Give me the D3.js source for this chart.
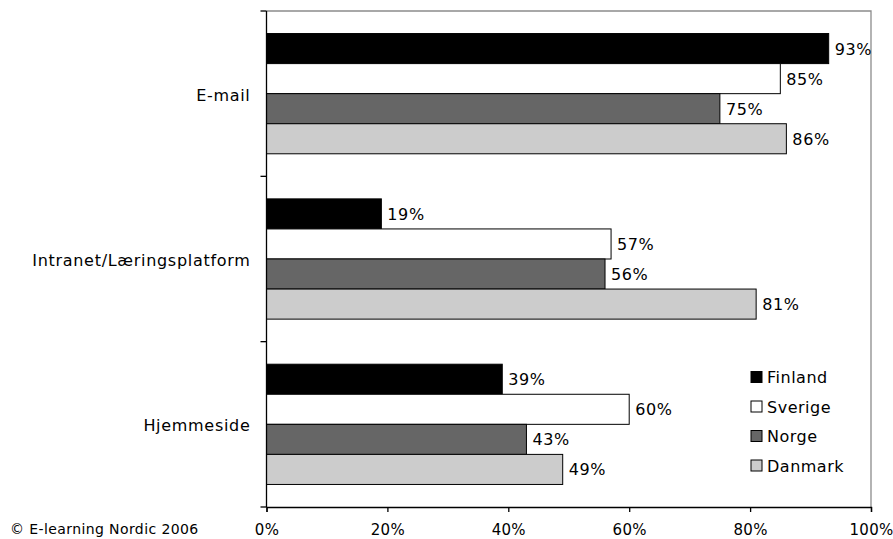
<!DOCTYPE html>
<html>
<head>
<meta charset="utf-8">
<script src="https://cdn.jsdelivr.net/npm/d3@7"></script>
<style>
  html, body { margin: 0; padding: 0; background: #fff; }
  svg { display: block; font-family: "DejaVu Sans", Verdana, sans-serif; }
</style>
</head>
<body>
<svg id="chart" width="893" height="539"></svg>
<script>
const categories = ["E-mail", "Intranet/Læringsplatform", "Hjemmeside"];
const seriesNames = ["Finland", "Sverige", "Norge", "Danmark"];
const finland = [93, 19, 39];
const sverige = [85, 57, 60];
const norge = [75, 56, 43];
const danmark = [86, 81, 49];
const xTicks = [0, 20, 40, 60, 80, 100];
const sourceNote = "© E-learning Nordic 2006";

(function () {
const seriesValues = [finland, sverige, norge, danmark];
const fills = ["#000000", "#ffffff", "#666666", "#cccccc"];

const svg = d3.select("#chart");
const pLeft = 266.5, pRight = 871, pTop = 11, pBottom = 507;

const x = d3.scaleLinear().domain([0, 100]).range([pLeft, pRight]);
const y = d3.scaleBand().domain(categories).range([pTop, pBottom]).paddingInner(0).paddingOuter(0);
const yInner = d3.scaleBand().domain(seriesNames).range([0, y.bandwidth()]).paddingInner(0).paddingOuter(0.75);

// plot border (top & right, gray)
svg.append("path")
  .attr("d", `M${pLeft},${pTop}H${pRight}V${pBottom}`)
  .attr("fill", "none").attr("stroke", "#8c8c8c").attr("stroke-width", 1.3);

// bars
const data = [];
categories.forEach((c, ci) => {
  seriesNames.forEach((s, si) => {
    data.push({ cat: c, series: s, value: seriesValues[si][ci], fill: fills[si] });
  });
});

svg.append("g").selectAll("rect").data(data).join("rect")
  .attr("x", x(0))
  .attr("y", d => y(d.cat) + yInner(d.series))
  .attr("width", d => x(d.value) - x(0))
  .attr("height", yInner.bandwidth())
  .attr("fill", d => d.fill)
  .attr("stroke", "#000")
  .attr("stroke-width", 1);

// data labels
svg.append("g").selectAll("text").data(data).join("text")
  .attr("x", d => x(d.value) + 6)
  .attr("y", d => y(d.cat) + yInner(d.series) + yInner.bandwidth() / 2 + 6)
  .attr("font-size", 16)
  .attr("letter-spacing", "0.6px")
  .attr("fill", "#000")
  .text(d => d.value + "%");

// y axis
const yAxisG = svg.append("g");
yAxisG.append("line").attr("x1", pLeft).attr("x2", pLeft).attr("y1", pTop).attr("y2", pBottom)
  .attr("stroke", "#000").attr("stroke-width", 1.3);
const boundaries = categories.map(c => y(c)).concat([pBottom]);
yAxisG.selectAll("line.tk").data(boundaries).join("line").attr("class", "tk")
  .attr("x1", pLeft - 6).attr("x2", pLeft).attr("y1", d => d).attr("y2", d => d)
  .attr("stroke", "#000").attr("stroke-width", 1.3);
yAxisG.selectAll("text").data(categories).join("text")
  .attr("x", pLeft - 16)
  .attr("y", d => y(d) + y.bandwidth() / 2 + 7)
  .attr("text-anchor", "end")
  .attr("font-size", 16)
  .attr("letter-spacing", "0.7px")
  .attr("fill", "#000")
  .text(d => d);

// x axis
const xAxis = d3.axisBottom(x).tickValues(xTicks).tickFormat(d => d + "%").tickSize(5).tickPadding(12);
const xg = svg.append("g").attr("transform", `translate(0,${pBottom})`).call(xAxis);
xg.select(".domain").attr("stroke", "#000").attr("stroke-width", 1.3);
xg.selectAll(".tick line").attr("stroke", "#000").attr("stroke-width", 1.3);
xg.selectAll(".tick text")
  .attr("font-family", "DejaVu Sans, Verdana, sans-serif")
  .attr("font-size", 15)
  .attr("letter-spacing", "0.3px")
  .attr("fill", "#000");

// source note
svg.append("text")
  .attr("x", 10).attr("y", 534)
  .attr("font-size", 14)
  .attr("letter-spacing", "0.4px")
  .attr("fill", "#000")
  .text(sourceNote);

// legend
const legend = svg.append("g");
const legendY = d3.scalePoint().domain(seriesNames).range([377, 465.5]);
seriesNames.forEach((s, i) => {
  legend.append("rect")
    .attr("x", 751).attr("y", legendY(s) - 5.5)
    .attr("width", 11).attr("height", 11)
    .attr("fill", fills[i]).attr("stroke", "#000").attr("stroke-width", 1);
  legend.append("text")
    .attr("x", 767).attr("y", legendY(s) + 6)
    .attr("font-size", 16)
    .attr("letter-spacing", "0.5px")
    .attr("fill", "#000")
    .text(s);
});
})();
</script>
</body>
</html>
